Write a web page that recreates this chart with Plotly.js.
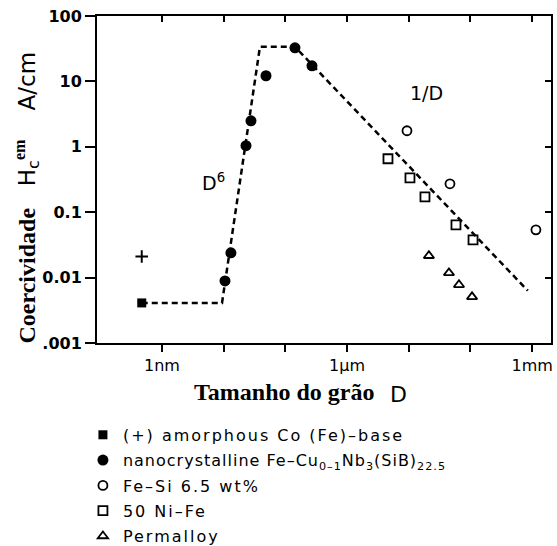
<!DOCTYPE html>
<html>
<head>
<meta charset="utf-8">
<script src="https://cdn.plot.ly/plotly-3.0.1.min.js"></script>
<style>
html,body{margin:0;padding:0;background:#fff;}
.legendtext{letter-spacing:2px;}
</style>
</head>
<body>
<div id="chart" style="width:557px;height:546px;"></div>
<script>
// grain size D in nm, coercivity Hc in A/cm
const amorphX = [0.47];
const amorphY = [0.0041];
const amorphPlusX = [0.47];
const amorphPlusY = [0.021];
const nanoX = [10.5, 13.1, 23, 27.7, 48.5, 143, 270];
const nanoY = [0.0089, 0.0239, 1.04, 2.5, 12.2, 32.6, 17.3];
const feSiX = [9350, 46500, 1150000];
const feSiY = [1.76, 0.272, 0.0538];
const niFeX = [4600, 10450, 18300, 58200, 110000];
const niFeY = [0.656, 0.336, 0.172, 0.0642, 0.0378];
const permX = [21200, 44800, 65100, 106000];
const permY = [0.0216, 0.0118, 0.00776, 0.00508];
const trendX = [0.47, 9.4, 38.7, 143, 850000];
const trendY = [0.0041, 0.0041, 33.8, 33.8, 0.0063];

const xTickVals = [1, 10, 100, 1e3, 1e4, 1e5, 1e6];
const xTickText = ['1nm', '', '', '1µm', '', '', '1mm'];
const yTickVals = [0.001, 0.01, 0.1, 1, 10, 100];
const yTickText = ['.001', '0.01', '0.1', '1', '10', '100'];

const legendNames = [
  '(+) amorphous Co (Fe)–base',
  '<span style="letter-spacing:1px">nanocrystalline Fe–Cu<sub>0–1</sub>Nb<sub>3</sub>(SiB)<sub>22.5</sub></span>',
  'Fe–Si 6.5 wt%',
  '50 Ni–Fe',
  'Permalloy'
];

const traces = [
  {x: trendX, y: trendY, mode: 'lines', line: {color: '#000', width: 2.5, dash: '6px,4px'},
   showlegend: false, hoverinfo: 'skip'},
  {x: amorphX, y: amorphY, mode: 'markers', name: legendNames[0], legendgroup: 'a',
   marker: {symbol: 'square', size: 9, color: '#000'}},
  {x: amorphPlusX, y: amorphPlusY, mode: 'markers', showlegend: false,
   marker: {symbol: 'cross-thin', size: 9, color: '#000', line: {color: '#000', width: 2}}},
  {x: nanoX, y: nanoY, mode: 'markers', name: legendNames[1], legendgroup: 'b',
   marker: {symbol: 'circle', size: 11, color: '#000'}},
  {x: feSiX, y: feSiY, mode: 'markers', name: legendNames[2], legendgroup: 'c',
   marker: {symbol: 'circle-open', size: 9, color: '#000', line: {color: '#000', width: 1.8}}},
  {x: niFeX, y: niFeY, mode: 'markers', name: legendNames[3], legendgroup: 'd',
   marker: {symbol: 'square-open', size: 9, color: '#000', line: {color: '#000', width: 1.8}}},
  {x: permX, y: permY, mode: 'markers', name: legendNames[4], legendgroup: 'e',
   marker: {symbol: 'triangle-up-open', size: 9, color: '#000', line: {color: '#000', width: 1.8}}},
  {x: [], y: [], xaxis: 'x2', yaxis: 'y', showlegend: false, hoverinfo: 'skip'},
  {x: [], y: [], xaxis: 'x', yaxis: 'y2', showlegend: false, hoverinfo: 'skip'}
];

const xRange = [-1.053, 6.305];
const yRange = [-3, 2];

const layout = {
  width: 557, height: 546,
  margin: {l: 97, r: 6, t: 16, b: 203, autoexpand: false},
  paper_bgcolor: '#fff', plot_bgcolor: '#fff',
  showlegend: true,
  xaxis: {type: 'log', range: xRange, tickvals: xTickVals, ticktext: xTickText,
    ticks: 'outside', ticklen: 7, tickwidth: 2, tickcolor: '#000',
    showline: true, linewidth: 2, linecolor: '#000', showgrid: false, zeroline: false,
    tickfont: {family: 'DejaVu Sans', size: 16, color: '#000'}},
  xaxis2: {type: 'log', range: xRange, overlaying: 'x', side: 'top', anchor: 'y',
    tickvals: xTickVals, showticklabels: false, ticks: 'inside', ticklen: 6, tickwidth: 2,
    tickcolor: '#000', showline: true, linewidth: 2, linecolor: '#000', showgrid: false, zeroline: false},
  yaxis: {type: 'log', range: yRange, tickvals: yTickVals, ticktext: yTickText,
    ticks: 'outside', ticklen: 10, tickwidth: 2, tickcolor: '#000',
    showline: true, linewidth: 2, linecolor: '#000', showgrid: false, zeroline: false,
    tickfont: {family: 'DejaVu Sans', size: 16, color: '#000', weight: 'bold'}},
  yaxis2: {type: 'log', range: yRange, overlaying: 'y', side: 'right', anchor: 'x',
    tickvals: yTickVals, showticklabels: false, ticks: 'inside', ticklen: 6, tickwidth: 2,
    tickcolor: '#000', showline: true, linewidth: 2, linecolor: '#000', showgrid: false, zeroline: false},
  legend: {x: -0.031, xanchor: 'left', y: -0.229, yanchor: 'top', yref: 'paper',
    bgcolor: 'rgba(0,0,0,0)', borderwidth: 0, tracegroupgap: 1.5,
    font: {family: 'DejaVu Sans', size: 16, color: '#000'}},
  annotations: [
    {xref: 'paper', yref: 'paper', x: -0.154, y: 0.2067, text: 'Coercividade', textangle: -90,
     showarrow: false, xanchor: 'center', yanchor: 'middle',
     font: {family: 'Liberation Serif', size: 24, color: '#000', weight: 'bold'}},
    {xref: 'paper', yref: 'paper', x: -0.154, y: 0.55, text: 'H<sub>c</sub><span style="font-family:Liberation Serif;font-weight:bold"><sup>em</sup></span>', textangle: -90,
     showarrow: false, xanchor: 'center', yanchor: 'middle',
     font: {family: 'DejaVu Sans', size: 23, color: '#000'}},
    {xref: 'paper', yref: 'paper', x: -0.154, y: 0.80, text: 'A/cm', textangle: -90,
     showarrow: false, xanchor: 'center', yanchor: 'middle',
     font: {family: 'DejaVu Sans', size: 23, color: '#000'}},
    {xref: 'paper', yref: 'paper', x: 0.4130, y: -0.1498, text: 'Tamanho do grão', showarrow: false,
     xanchor: 'center', yanchor: 'middle',
     font: {family: 'Liberation Serif', size: 24, color: '#000', weight: 'bold'}},
    {xref: 'paper', yref: 'paper', x: 0.6630, y: -0.159, text: 'D', showarrow: false,
     xanchor: 'center', yanchor: 'middle',
     font: {family: 'DejaVu Sans', size: 22, color: '#000'}},
    {xref: 'x', yref: 'y', x: 4.295, y: 0.826, text: '1/D', showarrow: false,
     xanchor: 'center', yanchor: 'middle',
     font: {family: 'DejaVu Sans', size: 19, color: '#000'}},
    {xref: 'x', yref: 'y', x: 0.827, y: -0.535, text: 'D<sup>6</sup>', showarrow: false,
     xanchor: 'center', yanchor: 'middle',
     font: {family: 'DejaVu Sans', size: 19, color: '#000'}}
  ]
};

Plotly.newPlot('chart', traces, layout, {displayModeBar: false, staticPlot: true});
</script>
</body>
</html>
